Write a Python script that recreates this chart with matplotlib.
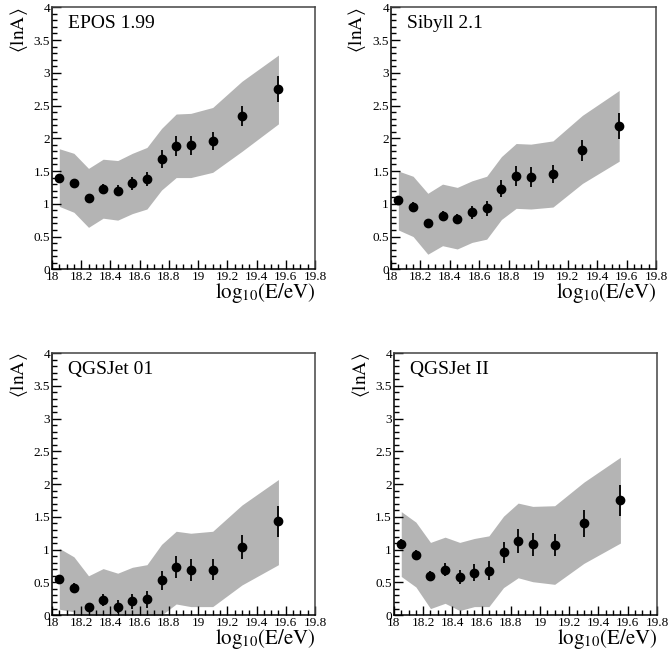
# <lnA> vs energy for four hadronic interaction models

import numpy as np
import matplotlib.pyplot as plt
from matplotlib.ticker import MultipleLocator

plt.rcParams['font.family'] = ['Liberation Serif', 'DejaVu Serif']
plt.rcParams['mathtext.fontset'] = 'stix'

logE = [18.05, 18.15, 18.25, 18.35, 18.45, 18.55, 18.65, 18.75, 18.85, 18.95, 19.1, 19.3, 19.55]

models = ['EPOS 1.99', 'Sibyll 2.1', 'QGSJet 01', 'QGSJet II']

lnA_epos = [1.39, 1.31, 1.09, 1.23, 1.20, 1.31, 1.38, 1.68, 1.88, 1.89, 1.96, 2.34, 2.75]
err_epos = [0.07, 0.07, 0.06, 0.07, 0.08, 0.10, 0.11, 0.14, 0.15, 0.15, 0.14, 0.16, 0.20]
up_epos = [1.84, 1.77, 1.54, 1.68, 1.66, 1.77, 1.86, 2.15, 2.37, 2.38, 2.47, 2.87, 3.27]
lo_epos = [0.96, 0.87, 0.64, 0.78, 0.75, 0.85, 0.92, 1.21, 1.40, 1.40, 1.48, 1.80, 2.22]

lnA_sib = [1.05, 0.95, 0.70, 0.82, 0.77, 0.87, 0.93, 1.23, 1.42, 1.41, 1.45, 1.82, 2.19]
err_sib = [0.07, 0.07, 0.06, 0.07, 0.08, 0.10, 0.11, 0.13, 0.15, 0.15, 0.14, 0.16, 0.20]
up_sib = [1.50, 1.42, 1.16, 1.30, 1.25, 1.35, 1.42, 1.72, 1.92, 1.91, 1.96, 2.35, 2.73]
lo_sib = [0.60, 0.50, 0.23, 0.36, 0.31, 0.41, 0.46, 0.76, 0.93, 0.92, 0.95, 1.31, 1.65]

lnA_qgs1 = [0.55, 0.42, 0.12, 0.23, 0.13, 0.21, 0.24, 0.53, 0.73, 0.69, 0.69, 1.04, 1.43]
err_qgs1 = [0.07, 0.07, 0.07, 0.09, 0.10, 0.12, 0.13, 0.15, 0.17, 0.17, 0.16, 0.19, 0.24]
up_qgs1 = [1.02, 0.89, 0.60, 0.71, 0.64, 0.73, 0.77, 1.08, 1.28, 1.25, 1.28, 1.68, 2.07]
lo_qgs1 = [0.09, 0.05, -0.3, -0.25, -0.3, -0.25, -0.2, 0.0, 0.17, 0.13, 0.13, 0.46, 0.77]

lnA_qgs2 = [1.09, 0.92, 0.60, 0.69, 0.58, 0.65, 0.68, 0.96, 1.13, 1.08, 1.07, 1.40, 1.75]
err_qgs2 = [0.07, 0.07, 0.08, 0.10, 0.11, 0.13, 0.14, 0.16, 0.18, 0.18, 0.17, 0.20, 0.24]
up_qgs2 = [1.58, 1.42, 1.11, 1.19, 1.11, 1.17, 1.21, 1.51, 1.71, 1.66, 1.67, 2.03, 2.41]
lo_qgs2 = [0.59, 0.43, 0.10, 0.18, 0.07, 0.13, 0.13, 0.42, 0.57, 0.51, 0.47, 0.79, 1.10]

lnA_all = [lnA_epos, lnA_sib, lnA_qgs1, lnA_qgs2]
err_all = [err_epos, err_sib, err_qgs1, err_qgs2]
up_all = [up_epos, up_sib, up_qgs1, up_qgs2]
lo_all = [lo_epos, lo_sib, lo_qgs1, lo_qgs2]

fig = plt.figure(figsize=(6.7, 6.6), dpi=100)
boxes = [[0.0776, 0.592, 0.3925, 0.397],
         [0.5836, 0.592, 0.3955, 0.397],
         [0.0776, 0.068, 0.3925, 0.397],
         [0.588, 0.068, 0.3925, 0.397]]

for i in range(4):
    ax = fig.add_axes(boxes[i])
    ax.fill_between(logE, lo_all[i], up_all[i], color='#b4b4b4', lw=0, zorder=1)
    ax.errorbar(logE, lnA_all[i], yerr=err_all[i], fmt='o', color='black',
                ms=6, elinewidth=1.3, capsize=0, zorder=3)
    ax.set_xlim(18, 19.8)
    ax.set_ylim(0, 4)
    ax.xaxis.set_major_locator(MultipleLocator(0.2))
    ax.xaxis.set_minor_locator(MultipleLocator(0.05))
    ax.yaxis.set_major_locator(MultipleLocator(0.5))
    ax.yaxis.set_minor_locator(MultipleLocator(0.1))
    ax.xaxis.set_major_formatter(plt.FuncFormatter(lambda v, p: '%g' % round(v, 1)))
    ax.yaxis.set_major_formatter(plt.FuncFormatter(lambda v, p: '%g' % v))
    ax.tick_params(which='both', direction='in', top=False, right=False,
                   labelsize=9.5, pad=1.5, width=1)
    ax.tick_params(which='major', length=6.5)
    ax.tick_params(which='minor', length=3.5)
    for s in ax.spines.values():
        s.set_linewidth(1.1)
    ax.spines['top'].set_color('#444444')
    ax.spines['right'].set_color('#444444')
    ax.text(0.06, 0.97, models[i], transform=ax.transAxes, fontsize=14,
            va='top', ha='left')
    ax.set_ylabel(r'$\langle\mathrm{lnA}\rangle$', fontsize=14, loc='top')
    ax.yaxis.set_label_coords(-0.085, 1.0)
    ax.set_xlabel(r'$\mathrm{log}_{10}\mathrm{(E/eV)}$', fontsize=15, loc='right')
    ax.xaxis.set_label_coords(1.0, -0.045)
    ax.xaxis.label.set_va('top')

fig.savefig('out.png', dpi=100)
